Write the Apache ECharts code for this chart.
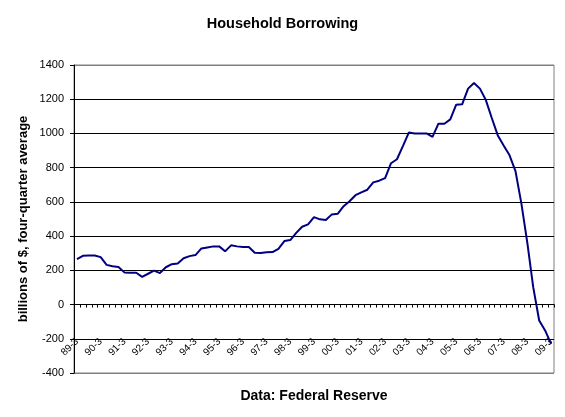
<!DOCTYPE html>
<html>
<head>
<meta charset="utf-8">
<script src="https://cdn.jsdelivr.net/npm/echarts@6/dist/echarts.min.js"></script>
<style>
  html, body { margin: 0; padding: 0; background: #fff; }
  #chart { width: 565px; height: 417px; }
</style>
</head>
<body>
<div id="chart"></div>
<script>
// quarters, 89-3 .. 09-3
var quarters = [
  '89-3','89-4',
  '90-1','90-2','90-3','90-4','91-1','91-2','91-3','91-4',
  '92-1','92-2','92-3','92-4','93-1','93-2','93-3','93-4',
  '94-1','94-2','94-3','94-4','95-1','95-2','95-3','95-4',
  '96-1','96-2','96-3','96-4','97-1','97-2','97-3','97-4',
  '98-1','98-2','98-3','98-4','99-1','99-2','99-3','99-4',
  '00-1','00-2','00-3','00-4','01-1','01-2','01-3','01-4',
  '02-1','02-2','02-3','02-4','03-1','03-2','03-3','03-4',
  '04-1','04-2','04-3','04-4','05-1','05-2','05-3','05-4',
  '06-1','06-2','06-3','06-4','07-1','07-2','07-3','07-4',
  '08-1','08-2','08-3','08-4','09-1','09-2','09-3'
];

// billions of $, four-quarter average
var borrowing = [
  265, 285,
  287, 287, 277, 232, 224, 220, 188, 186,
  186, 162, 180, 198, 184, 218, 236, 240,
  271, 283, 289, 328, 334, 340, 340, 311,
  346, 340, 336, 336, 303, 301, 305, 307,
  326, 371, 377, 419, 455, 469, 511, 498,
  494, 527, 530, 575, 604, 639, 656, 671,
  714, 724, 739, 826, 849, 926, 1005, 1000,
  1000, 1000, 980, 1057, 1057, 1082, 1168, 1170,
  1262, 1295, 1262, 1195, 1090, 990, 930, 872,
  780, 590, 360, 100, -93, -151, -230
];

var yTicks = [-400, -200, 0, 200, 400, 600, 800, 1000, 1200, 1400];

var font = 'Arial, "Liberation Sans", sans-serif';

var chart = echarts.init(document.getElementById('chart'));
chart.setOption({
  animation: false,
  backgroundColor: '#fff',
  title: {
    text: 'Household Borrowing',
    left: 'center',
    top: 11,
    textStyle: { fontFamily: font, fontSize: 14.5, fontWeight: 'bold', color: '#000' }
  },
  grid: {
    left: 74, right: 11, top: 65, bottom: 44,
    outerBoundsMode: 'none',
    containLabel: false,
    show: true, borderColor: '#808080', borderWidth: 1
  },
  xAxis: {
    type: 'category',
    data: quarters,
    boundaryGap: true,
    name: 'Data: Federal Reserve',
    nameLocation: 'middle',
    nameGap: 16,
    nameMoveOverlap: false,
    nameTextStyle: { fontFamily: font, fontSize: 14, fontWeight: 'bold', color: '#000' },
    axisLine: { onZero: true, lineStyle: { color: '#000', width: 1 } },
    axisTick: { show: true, interval: 0, length: 3, lineStyle: { color: '#000' } },
    axisLabel: {
      interval: 3,
      rotate: 45,
      margin: -33,
      fontFamily: font,
      fontSize: 10,
      color: '#000'
    },
    splitLine: { show: false }
  },
  yAxis: {
    type: 'value',
    min: yTicks[0],
    max: yTicks[yTicks.length - 1],
    interval: 200,
    name: 'billions of $, four-quarter average',
    nameLocation: 'middle',
    nameGap: 44,
    nameMoveOverlap: false,
    nameTextStyle: { fontFamily: font, fontSize: 13, fontWeight: 'bold', color: '#000' },
    axisLine: { show: true, lineStyle: { color: '#000' } },
    axisTick: { show: true, length: 4, lineStyle: { color: '#000' } },
    axisLabel: {
      fontFamily: font, fontSize: 11, color: '#000', margin: 10,
      formatter: function (v) { return String(v); }
    },
    splitLine: {
      show: true,
      lineStyle: {
        color: ['#808080', '#000', '#000', '#000', '#000', '#000', '#000', '#000', '#000', '#808080'],
        width: 1
      }
    }
  },
  series: [{
    type: 'line',
    data: borrowing,
    symbol: 'none',
    lineStyle: { color: '#000080', width: 2 },
    itemStyle: { color: '#000080' }
  }]
});
</script>
</body>
</html>
